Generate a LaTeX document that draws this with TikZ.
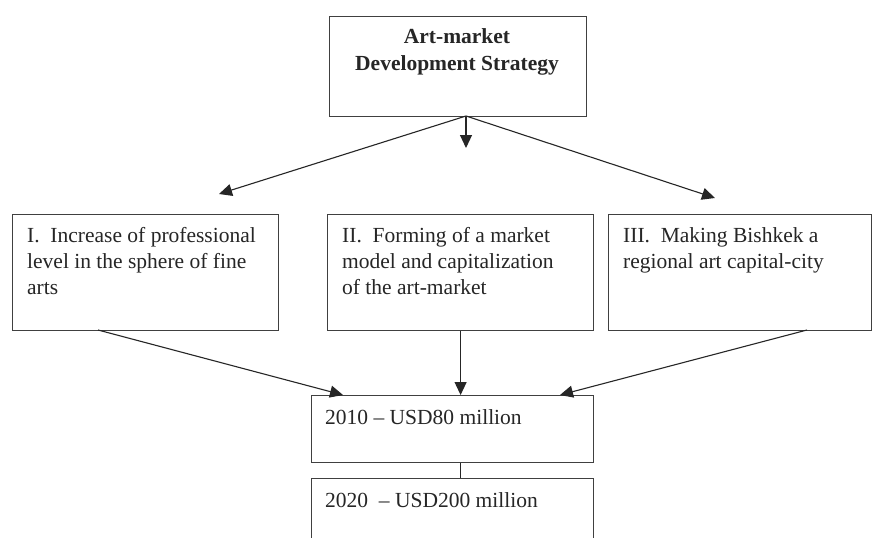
\documentclass[tikz,border=0pt]{standalone}
\usepackage{fontspec}
\setmainfont{Liberation Serif}
\usetikzlibrary{arrows.meta}
\begin{document}
\begin{tikzpicture}[x=1pt,y=-1pt,
  box/.style={draw=black!75,line width=1.2pt,rectangle,inner sep=0pt,anchor=north west},
  txt/.style={anchor=north west,inner sep=0pt,align=left,font=\fontsize{21.5}{26}\selectfont,text=black!85},
  conn/.style={draw=black!85,line width=1.1pt,-{Triangle[length=13pt,width=12pt]}}]
\clip (0,0) rectangle (879,538);
\fill[white] (0,0) rectangle (879,538);
% top box
\node[box,minimum width=257pt,minimum height=100pt] (top) at (329,16) {};
\node[anchor=north,inner sep=0pt,align=center,font=\fontsize{21.5}{27}\selectfont\bfseries,text=black!85] (title) at (457,28) {Art-market\\Development Strategy};
% three boxes
\node[box,minimum width=266pt,minimum height=116pt] (b1) at (12,214) {};
\node[txt] (t1) at (27,227) {I.\ \ Increase of professional\\level in the sphere of fine\\arts};
\node[box,minimum width=266pt,minimum height=116pt] (b2) at (327,214) {};
\node[txt] (t2) at (342,227) {II.\ \ Forming of a market\\model and capitalization\\of the art-market};
\node[box,minimum width=263pt,minimum height=116pt] (b3) at (608,214) {};
\node[txt] (t3) at (623,227) {III.\ \ Making Bishkek a\\regional art capital-city};
% result boxes
\node[box,minimum width=282pt,minimum height=67pt] (r1) at (311,395) {};
\node[txt] (tr1) at (325,409) {2010 – USD80 million};
\node[box,minimum width=282pt,minimum height=80pt] (r2) at (311,478) {};
\node[txt] (tr2) at (325,492) {2020\ \ – USD200 million};
% coordinates
\coordinate (src) at (466,116);
\coordinate (tipL) at (219,194);
\coordinate (tipC) at (466,148);
\coordinate (tipR) at (715,198);
\coordinate (s1) at (98,330);
\coordinate (e1) at (343,395);
\coordinate (s3) at (807,330);
\coordinate (e3) at (560,395);
% connectors
\draw[conn] (src) -- (tipL);
\draw[conn] (src) -- (tipC);
\draw[conn] (src) -- (tipR);
\draw[conn] (s1) -- (e1);
\draw[conn] (b2.south) -- (b2.south |- r1.north);
\draw[conn] (s3) -- (e3);
\draw[draw=black!85,line width=1.1pt] (r1.south -| b2.south) -- (r2.north -| b2.south);
\end{tikzpicture}
\end{document}
